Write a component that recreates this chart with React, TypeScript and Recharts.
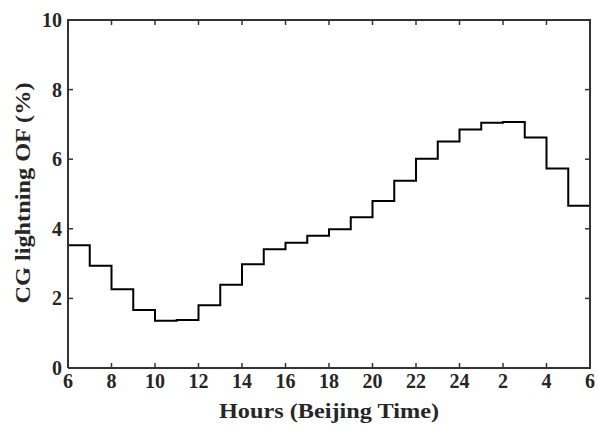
import type { ReactElement } from 'react'
import { LineChart, Line, XAxis, YAxis } from 'recharts'

// hour bins, Beijing time (6 -> next-day 5)
const hours = [6, 7, 8, 9, 10, 11, 12, 13, 14, 15, 16, 17, 18, 19, 20, 21, 22, 23, 24, 25, 26, 27, 28, 29]
const cgOF = [3.53, 2.94, 2.26, 1.67, 1.36, 1.38, 1.80, 2.39, 2.98, 3.41, 3.60, 3.80, 3.99, 4.33, 4.80, 5.38, 6.01, 6.51, 6.85, 7.05, 7.07, 6.62, 5.73, 4.66]
const xTicks = [6, 8, 10, 12, 14, 16, 18, 20, 22, 24, 26, 28, 30]
const xTickLabels = ['6', '8', '10', '12', '14', '16', '18', '20', '22', '24', '2', '4', '6']
const yTicks = [0, 2, 4, 6, 8, 10]

// stepAfter needs a closing point at the end of the last bin
const data = [
  ...hours.map((h, i) => ({ hour: h, value: cgOF[i] })),
  { hour: 30, value: cgOF[cgOF.length - 1] }
]

const CHART_W = 598
const CHART_H = 428
const MARGIN = { top: 20, right: 8, bottom: 30, left: 28 }
const X_AXIS_H = 30
const Y_AXIS_W = 40
const PLOT_W = CHART_W - MARGIN.left - MARGIN.right - Y_AXIS_W
const PLOT_H = CHART_H - MARGIN.top - MARGIN.bottom - X_AXIS_H

const FONT = '"Liberation Serif", "Times New Roman", serif'
const AXIS = '#333'
const TEXT = '#262626'
const TICK_LEN = 5

// bottom axis tick: label + inward ticks on bottom and top edges (+ top edge of box)
function BottomTick(props: any): ReactElement {
  const { x, y, payload, index } = props
  const w = props.width || PLOT_W
  const top = y - PLOT_H
  return (
    <g>
      <line x1={x} y1={y} x2={x} y2={y - TICK_LEN} stroke={AXIS} strokeWidth={1.5} />
      <line x1={x} y1={top} x2={x} y2={top + TICK_LEN} stroke={AXIS} strokeWidth={1.5} />
      {index === 0 && <line x1={x - 1} y1={top} x2={x + w + 1} y2={top} stroke={AXIS} strokeWidth={2} />}
      <text x={x} y={y + 20} textAnchor="middle" fontFamily={FONT} fontWeight="bold" fontSize={20} fill={TEXT}>
        {xTickLabels[index] ?? payload.value}
      </text>
    </g>
  )
}

// left axis tick: label + inward ticks on left and right edges (+ right edge of box)
function LeftTick(props: any): ReactElement {
  const { x, y, payload, index } = props
  const h = props.height || PLOT_H
  const right = x + PLOT_W
  return (
    <g>
      <line x1={x} y1={y} x2={x + TICK_LEN} y2={y} stroke={AXIS} strokeWidth={1.5} />
      <line x1={right} y1={y} x2={right - TICK_LEN} y2={y} stroke={AXIS} strokeWidth={1.5} />
      {index === 0 && <line x1={right} y1={y + 1} x2={right} y2={y - h - 1} stroke={AXIS} strokeWidth={2} />}
      <text x={x - 6} y={y + 7} textAnchor="end" fontFamily={FONT} fontWeight="bold" fontSize={20} fill={TEXT}>
        {payload.value}
      </text>
    </g>
  )
}

export default function App(): ReactElement {
  return (
    <div style={{ position: 'absolute', left: 0, top: 0, width: CHART_W, height: CHART_H, background: '#fff' }}>
      <LineChart width={CHART_W} height={CHART_H} data={data} margin={MARGIN}>
        <XAxis
          xAxisId="bottom"
          dataKey="hour"
          type="number"
          domain={[6, 30]}
          ticks={xTicks}
          interval={0}
          height={X_AXIS_H}
          tickSize={0}
          tickMargin={0}
          tickLine={false}
          axisLine={{ stroke: AXIS, strokeWidth: 2 }}
          tick={<BottomTick />}
          label={{
            content: () => (
              <text
                x={329}
                y={418}
                textAnchor="middle"
                fontFamily={FONT}
                fontWeight="bold"
                fontSize={22}
                fill={TEXT}
                textLength={220}
                lengthAdjust="spacingAndGlyphs"
              >
                Hours (Beijing Time)
              </text>
            )
          }}
        />
        <YAxis
          yAxisId="left"
          type="number"
          domain={[0, 10]}
          ticks={yTicks}
          interval={0}
          width={Y_AXIS_W}
          tickSize={0}
          tickMargin={0}
          tickLine={false}
          axisLine={{ stroke: AXIS, strokeWidth: 2 }}
          tick={<LeftTick />}
          label={{
            content: () => (
              <text
                x={0}
                y={0}
                transform="translate(30 193) rotate(-90)"
                textAnchor="middle"
                fontFamily={FONT}
                fontWeight="bold"
                fontSize={22}
                fill={TEXT}
                textLength={221}
                lengthAdjust="spacingAndGlyphs"
              >
                CG lightning OF (%)
              </text>
            )
          }}
        />
        <Line
          xAxisId="bottom"
          yAxisId="left"
          type="stepAfter"
          dataKey="value"
          stroke="#000"
          strokeWidth={2}
          dot={false}
          isAnimationActive={false}
        />
      </LineChart>
    </div>
  )
}
